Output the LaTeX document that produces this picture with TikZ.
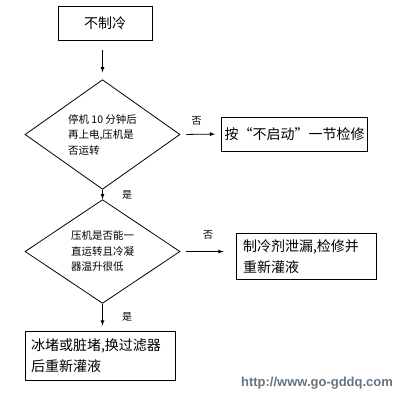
\documentclass[tikz,border=0pt]{standalone}
\usepackage{fontspec}
\setmainfont{Noto Sans CJK SC}
\newfontfamily\urlfont{Liberation Sans}
\usetikzlibrary{shapes.geometric}
\usetikzlibrary{arrows}
\definecolor{urlgray}{RGB}{100,115,130}

\begin{document}
\begin{tikzpicture}[x=1pt, y=-1pt, line width=0.8pt, >=latex,
	box node/.style={rectangle,draw,inner sep=6pt,font=\fontsize{14}{21}\selectfont},
	ask node/.style={diamond,draw,minimum width=155pt,minimum height=91pt,inner sep=0pt,align=left,font=\fontsize{10.5}{15.5}\selectfont},
	answer/.style={font=\fontsize{10}{12}\selectfont}]
	\useasboundingbox (0,0) rectangle (411,400);
	\node[box node, minimum width=94pt, minimum height=34pt] (1) at (105,23) {不制冷};
	\node[ask node] (2) at (102.5,134.5) {停机 10 分钟后\\再上电,压机是\\否运转};
	\node[box node, minimum width=139pt, minimum height=34pt, inner xsep=3pt] (3) at (294.5,134) {按“不启动”一节检修};
	\node[ask node] (4) at (102.5,251.5) {压机是否能一\\直运转且冷凝\\器温升很低};
	\node[box node, text width=126pt, minimum height=43pt, align=left, inner xsep=7pt] (5) at (306,256.5) {制冷剂泄漏,检修并\\重新灌液};
	\node[box node, text width=138pt, minimum height=49pt, align=left, inner xsep=6pt] (6) at (100,355.5) {冰堵或脏堵,换过滤器\\后重新灌液};
	\node[font=\urlfont\bfseries\fontsize{13}{15}\selectfont, text=urlgray] (7) at (317,383) {http://www.go-gddq.com};
	\path[->]
	(2.north |- 1.south) edge[shorten <=10pt, shorten >=7pt] (2.north)
	(2.east) edge[shorten <=6pt, shorten >=6pt] node[answer, pos=0.4, above=5pt] {否} (3.west)
	(2.south) edge node[answer, right=16pt] {是} (4.north)
	(4.east) edge[shorten <=6pt, shorten >=12pt] node[answer, above=8pt] {否} (4.east -| 5.west)
	(4.south) edge[shorten >=5pt] node[answer, right=16pt] {是} (4.south |- 6.north);
\end{tikzpicture}
\end{document}
